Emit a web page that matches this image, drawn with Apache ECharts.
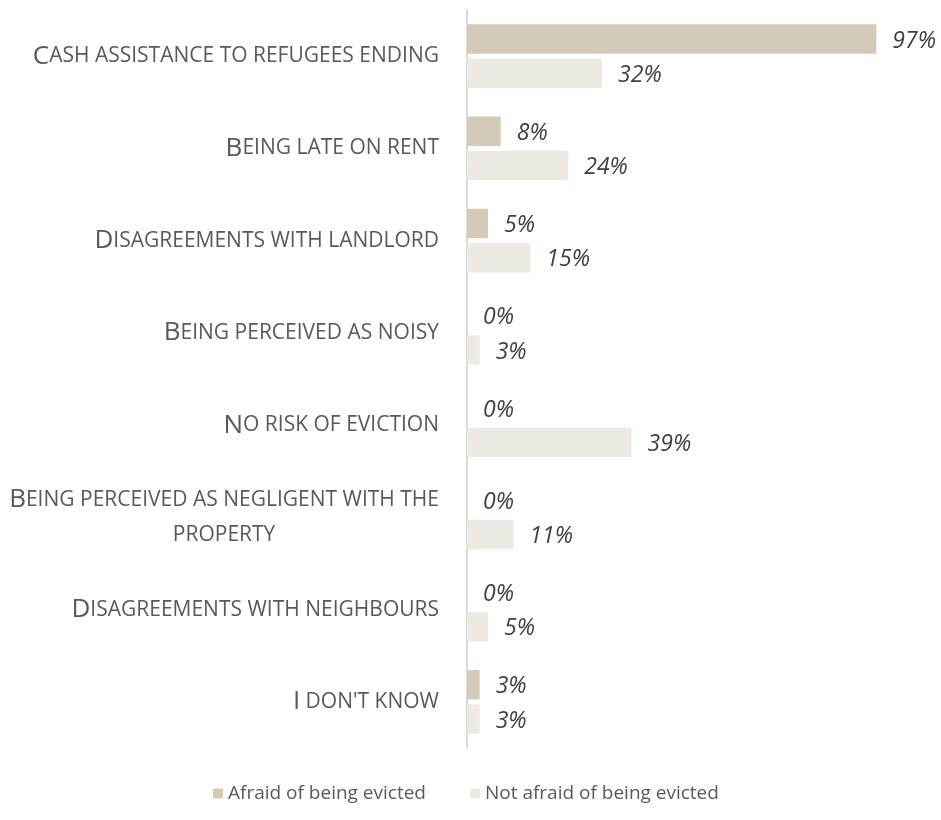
<!DOCTYPE html>
<html><head><meta charset="utf-8">
<script src="https://cdn.jsdelivr.net/npm/echarts@6/dist/echarts.min.js"></script>
<style>html,body{margin:0;padding:0;background:#fff}#c{width:941px;height:820px}</style>
</head><body><div id="c"></div>
<script>
const categories = [
  "Cash assistance to refugees ending",
  "Being late on rent",
  "Disagreements with landlord",
  "Being perceived as noisy",
  "No risk of eviction",
  "Being perceived as negligent with the\nproperty",
  "Disagreements with neighbours",
  "I don't know"
];
const seriesNames = ["Afraid of being evicted", "Not afraid of being evicted"];
const afraid = [97, 8, 5, 0, 0, 0, 0, 3];
const notAfraid = [32, 24, 15, 3, 39, 11, 5, 3];

const FONT = "'Open Sans', 'Noto Sans', sans-serif";
const chart = echarts.init(document.getElementById('c'));

function smallCaps(v) {
  const lines = v.split('\n');
  return lines.map((ln, i) => {
    if (i === 0) {
      return '{big|' + ln.charAt(0).toUpperCase() + '}{sm|' + ln.slice(1).toUpperCase() + '}';
    }
    return '{smc|' + ln.toUpperCase() + '}';
  }).join('\n');
}

const dataLabel = { show: true, position: 'right', distance: 16, offset: [0, 2], formatter: '{c}%', fontStyle: 'italic', fontSize: 23, color: '#404040', fontFamily: FONT };

chart.setOption({
  animation: false,
  textStyle: { fontFamily: FONT },
  grid: { left: 467, top: 10, width: 422, height: 738, containLabel: false },
  xAxis: { type: 'value', min: 0, max: 100, show: false },
  yAxis: {
    type: 'category', inverse: true, data: categories,
    axisLine: { show: true, lineStyle: { color: '#d9d9d9', width: 2 } },
    axisTick: { show: false },
    axisLabel: {
      margin: 28, color: '#595959', lineHeight: 35,
      formatter: smallCaps,
      rich: {
        big: { fontSize: 26, fontFamily: FONT, color: '#595959', lineHeight: 35 },
        sm: { fontSize: 21, fontFamily: FONT, color: '#595959', lineHeight: 35 },
        smc: { fontSize: 21, fontFamily: FONT, color: '#595959', lineHeight: 35, width: 425, align: 'center' }
      }
    }
  },
  legend: {
    bottom: 12, left: 208, icon: 'rect', itemWidth: 10, itemHeight: 10, itemGap: 44,
    textStyle: { fontSize: 19, color: '#595959', fontFamily: FONT },
    data: seriesNames
  },
  series: [
    { name: seriesNames[0], type: 'bar', data: afraid, barGap: '17%', barCategoryGap: '31%',
      itemStyle: { color: '#d3cbb8' }, label: dataLabel },
    { name: seriesNames[1], type: 'bar', data: notAfraid,
      itemStyle: { color: '#edeae4' }, label: dataLabel }
  ]
});
</script></body></html>
